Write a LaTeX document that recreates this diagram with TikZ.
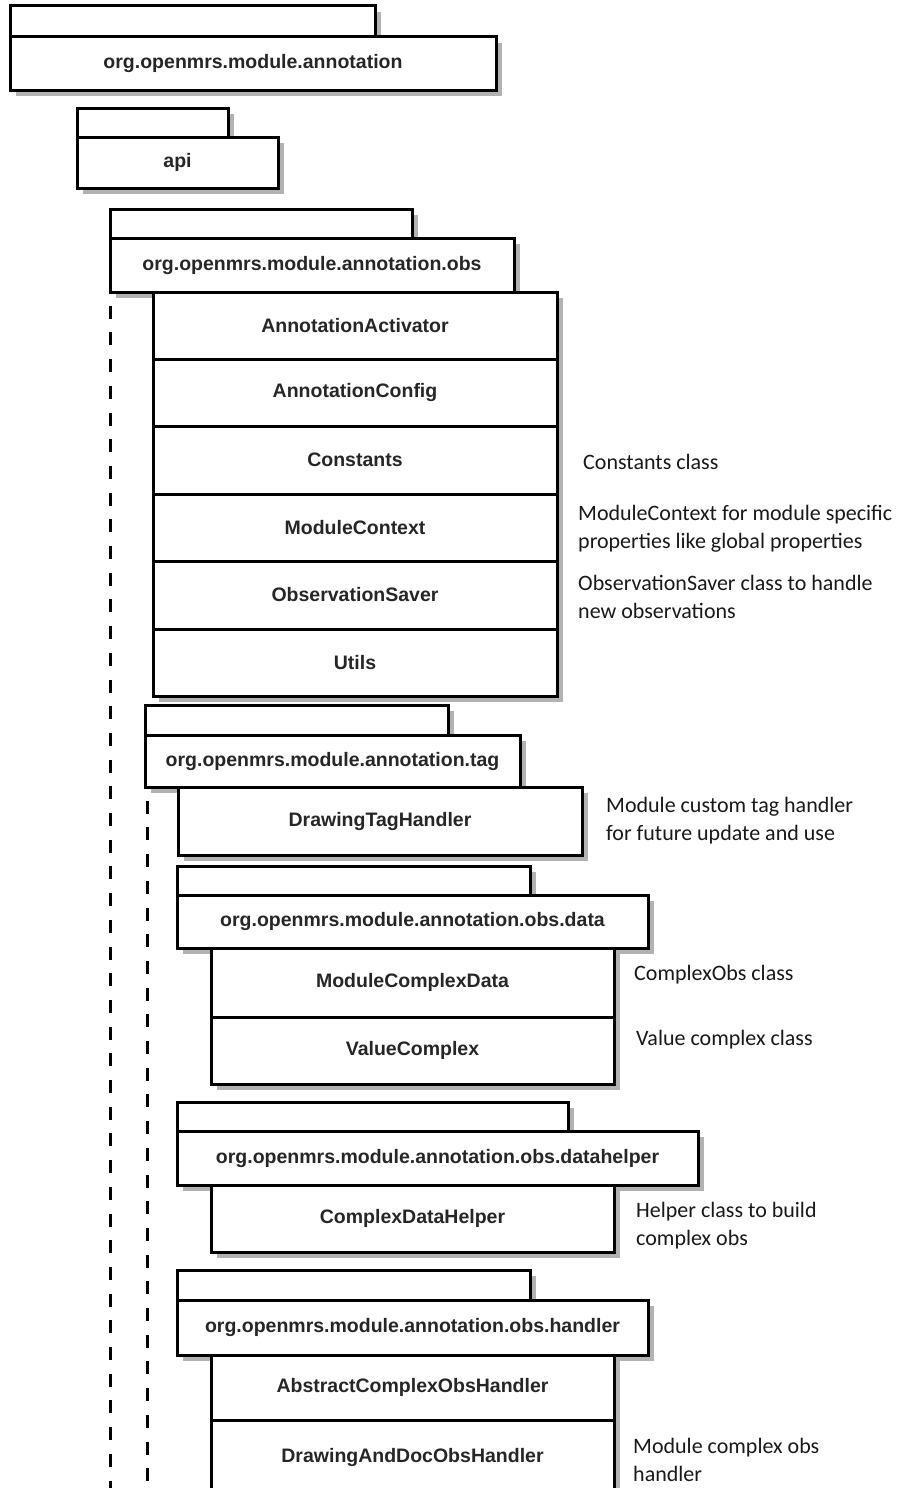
\documentclass[tikz,border=0pt]{standalone}
\usepackage{fontspec}
\newfontfamily\arialf{Liberation Sans}
\newfontfamily\calibrif{Carlito}
\usetikzlibrary{shadows}
\tikzset{
 shd/.style={drop shadow={shadow xshift=6pt, shadow yshift=-6pt, fill=black!30, opacity=1}},
 box/.style={draw, line width=3pt, fill=white, inner sep=0pt, outer sep=0pt, anchor=north west, shd,
   font=\arialf\bfseries\fontsize{19.5}{23}\selectfont, text=black!85},
 note/.style={anchor=west, inner sep=0pt, align=left, font=\calibrif\fontsize{22}{28}\selectfont, text=black!90},
 lifeline/.style={line width=3pt, dash pattern=on 13pt off 13.7pt, dash phase=13pt}
}
\newcommand\bx[6]{\node[box, minimum width={(#4-(#2))*1pt}, minimum height={(#5-(#3))*1pt}] (#1) at (#2,#3) {#6};}
\begin{document}
\begin{tikzpicture}[x=1pt,y=-1pt]
\useasboundingbox[fill=white] (0,0) rectangle (901,1488);
% top package
\bx{toptab}{10}{6}{375}{37}{}
\bx{top}{10}{37}{496}{90}{org.openmrs.module.annotation}
% api
\bx{apitab}{77}{108}{228}{137}{}
\bx{api}{77}{137}{278}{188}{api}
% obs
\bx{obstab}{110}{209}{412}{238}{}
\bx{obs}{110}{238}{514}{292}{org.openmrs.module.annotation.obs}
\coordinate (l1end) at (110,1492);
\draw[lifeline] (obs.south west) -- (l1end);
\bx{c1}{153}{292}{557}{359}{AnnotationActivator}
\bx{c2}{153}{359}{557}{426}{AnnotationConfig}
\bx{c3}{153}{426}{557}{494}{Constants}
\bx{c4}{153}{494}{557}{561}{ModuleContext}
\bx{c5}{153}{561}{557}{629}{ObservationSaver}
\bx{c6}{153}{629}{557}{696}{Utils}
% tag
\bx{tagtab}{145}{705}{448}{735}{}
\bx{tag}{145}{735}{520}{787}{org.openmrs.module.annotation.tag}
\coordinate (l2end) at (147,1492);
\draw[lifeline] ([xshift=2pt]tag.south west) -- (l2end);
\bx{t1}{178}{787}{582}{855}{DrawingTagHandler}
% data
\bx{datatab}{177}{866}{530}{895}{}
\bx{data}{177}{895}{648}{948}{org.openmrs.module.annotation.obs.data}
\bx{d1}{211}{948}{614}{1017}{ModuleComplexData}
\bx{d2}{211}{1017}{614}{1084}{ValueComplex}
% datahelper
\bx{helptab}{177}{1102}{568}{1131}{}
\bx{help}{177}{1131}{698}{1185}{org.openmrs.module.annotation.obs.datahelper}
\bx{h1}{211}{1185}{614}{1252}{ComplexDataHelper}
% handler
\bx{handtab}{177}{1270}{530}{1300}{}
\bx{hand}{177}{1300}{648}{1355}{org.openmrs.module.annotation.obs.handler}
\bx{k1}{211}{1355}{614}{1420}{AbstractComplexObsHandler}
\bx{k2}{211}{1420}{614}{1494}{DrawingAndDocObsHandler}
% notes
\node[note] (n1) at (583,462) {Constants class};
\node[note] (n2) at (578,529) {ModuleContext for module specific\\properties like global properties};
\node[note] (n3) at (578,597) {ObservationSaver class to handle\\new observations};
\node[note] (n4) at (606,821) {Module custom tag handler\\for future update and use};
\node[note] (n5) at (634,975) {ComplexObs class};
\node[note] (n6) at (636,1040) {Value complex class};
\node[note] (n7) at (636,1226) {Helper class to build\\complex obs};
\node[note] (n8) at (633,1460) {Module complex obs\\handler};
\end{tikzpicture}
\end{document}
